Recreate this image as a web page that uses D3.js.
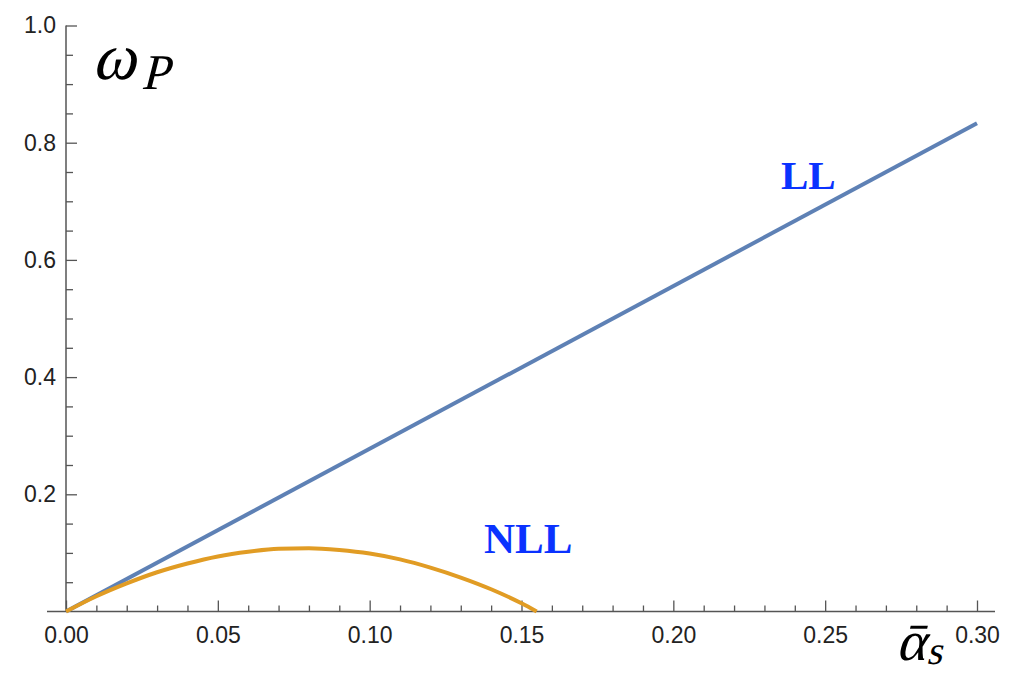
<!DOCTYPE html>
<html lang="en">
<head>
    <meta charset="UTF-8">
    <title>omega_P vs alpha_s</title>
    <script src="https://d3js.org/d3.v7.min.js"></script>
    <style>
        body, html { margin: 0; background: #ffffff; }
        svg { display: block; }
        .tick text { font-family: 'Liberation Sans', Arial, sans-serif; font-size: 23px; fill: #222; }
        .tick line { stroke: #555; stroke-width: 1.3; }
        .math { font-family: 'Liberation Serif', 'DejaVu Serif', serif; font-style: normal; fill: #000; }
        .curve-label { font-family: 'Liberation Serif', 'Times New Roman', serif; font-weight: bold; fill: #0a32ff; }
    </style>
</head>
<body>
<svg width="1019" height="679"></svg>
<script>
    // data
    const llX = [0, 0.30];
    const llY = [0, 0.833];

    const nllX = [0, 0.01, 0.02, 0.03, 0.04, 0.05, 0.06, 0.07, 0.08, 0.09, 0.10, 0.11, 0.12, 0.13, 0.14, 0.15, 0.155];
    const nllY = [0, 0.026, 0.048, 0.067, 0.082, 0.094, 0.102, 0.107, 0.108, 0.105, 0.099, 0.089, 0.075, 0.058, 0.038, 0.014, 0];

    const xTicks = [0, 0.05, 0.10, 0.15, 0.20, 0.25, 0.30];
    const yTicks = [0.2, 0.4, 0.6, 0.8, 1.0];
    const xMinor = d3.range(0, 31).map(i => i / 100).filter(v => Math.round(v * 100) % 5 !== 0);
    const yMinor = d3.range(0, 21).map(i => i / 20).filter(v => Math.round(v * 20) % 4 !== 0);

    const svg = d3.select("svg");
    const x = d3.scaleLinear().domain([0, 0.30]).range([66, 977]);
    const y = d3.scaleLinear().domain([0, 1.0]).range([611.5, 25.5]);

    // axis lines
    svg.append("line")
        .attr("x1", 47).attr("x2", 995)
        .attr("y1", y(0)).attr("y2", y(0))
        .attr("stroke", "#555").attr("stroke-width", 1.5);
    svg.append("line")
        .attr("x1", x(0)).attr("x2", x(0))
        .attr("y1", y(1.0)).attr("y2", y(0))
        .attr("stroke", "#555").attr("stroke-width", 1.5);

    // x axis
    const gx = svg.append("g").attr("transform", `translate(0,${y(0)})`)
        .call(d3.axisBottom(x).tickValues(xTicks).tickSize(-11).tickPadding(15)
            .tickFormat(d3.format(".2f")));
    gx.select(".domain").remove();
    const gxm = svg.append("g").attr("transform", `translate(0,${y(0)})`)
        .call(d3.axisBottom(x).tickValues(xMinor).tickSize(-6).tickFormat(""));
    gxm.select(".domain").remove();

    // y axis
    const gy = svg.append("g").attr("transform", `translate(${x(0)},0)`)
        .call(d3.axisLeft(y).tickValues(yTicks).tickSize(-11).tickPadding(10)
            .tickFormat(d3.format(".1f")));
    gy.select(".domain").remove();
    const gym = svg.append("g").attr("transform", `translate(${x(0)},0)`)
        .call(d3.axisLeft(y).tickValues(yMinor).tickSize(-7).tickFormat(""));
    gym.select(".domain").remove();

    // curves
    const line = d3.line().x(d => x(d[0])).y(d => y(d[1]));
    const curve = d3.line().x(d => x(d[0])).y(d => y(d[1])).curve(d3.curveMonotoneX);

    svg.append("path")
        .datum(d3.zip(llX, llY))
        .attr("d", line)
        .attr("fill", "none")
        .attr("stroke", "#5e81b5")
        .attr("stroke-width", 4);

    svg.append("path")
        .datum(d3.zip(nllX, nllY))
        .attr("d", curve)
        .attr("fill", "none")
        .attr("stroke", "#e19c24")
        .attr("stroke-width", 4);

    // labels
    svg.append("text").attr("class", "curve-label")
        .attr("x", 781).attr("y", 189)
        .attr("font-size", 41)
        .text("LL");
    svg.append("text").attr("class", "curve-label")
        .attr("x", 484).attr("y", 553)
        .attr("font-size", 43)
        .text("NLL");

    // slanted serif for the math symbols
    const wp = svg.append("text").attr("class", "math")
        .attr("transform", "translate(92,79) skewX(-14)");
    wp.append("tspan").attr("font-size", 66).text("ω");
    wp.append("tspan").attr("font-size", 50).attr("dx", 8).attr("dy", 10).text("P");

    const as = svg.append("text").attr("class", "math")
        .attr("transform", "translate(896,660) skewX(-14)");
    as.append("tspan").attr("font-size", 56).text("ᾱ");
    as.append("tspan").attr("font-size", 40).attr("dx", 2).attr("dy", 4).text("s");
</script>
</body>
</html>
